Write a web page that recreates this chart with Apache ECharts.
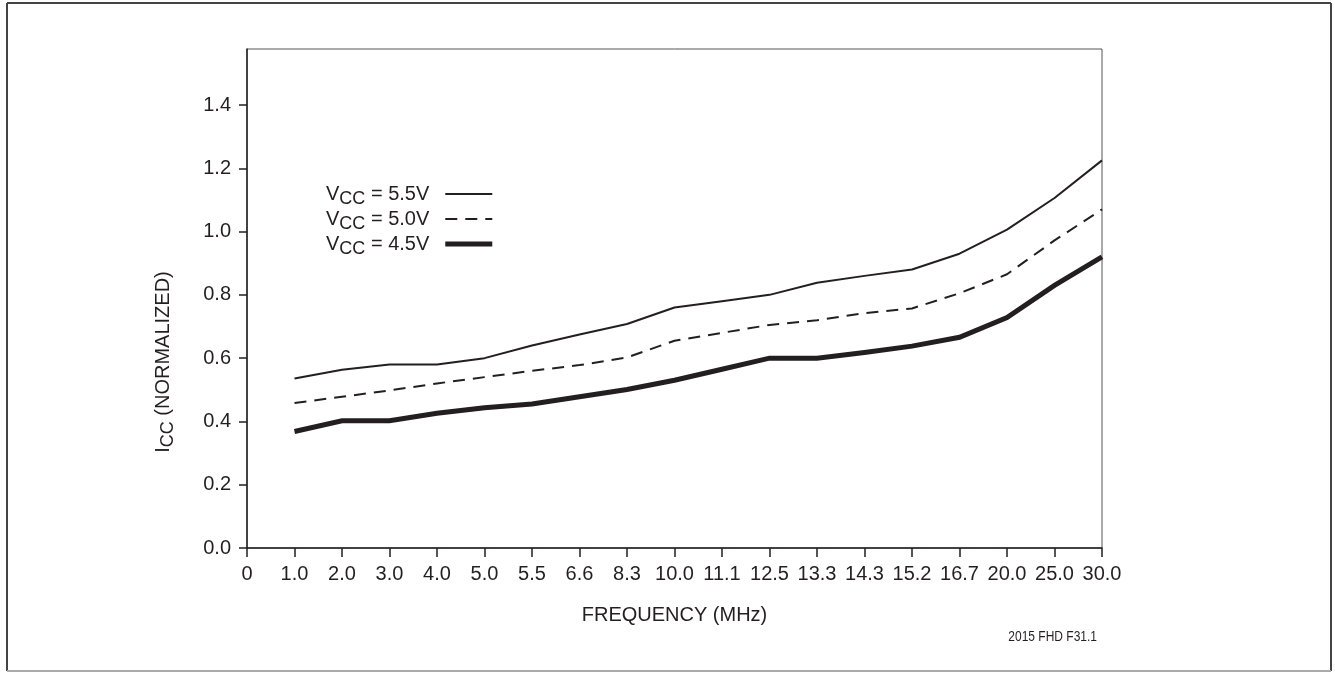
<!DOCTYPE html>
<html>
<head>
<meta charset="utf-8">
<script src="https://cdn.jsdelivr.net/npm/echarts@6/dist/echarts.min.js"></script>
<style>
html,body{margin:0;padding:0;background:#fff;}
#chart{width:1335px;height:673px;}
</style>
</head>
<body>
<div id="chart"></div>
<script>
// Frequency tick labels (MHz); the first category "0" carries no data
var tickLabels = ['0','1.0','2.0','3.0','4.0','5.0','5.5','6.6','8.3','10.0','11.1','12.5','13.3','14.3','15.2','16.7','20.0','25.0','30.0'];
// Normalized ICC values at 1.0 ... 30.0 MHz
var vcc55 = [0.536,0.563,0.580,0.580,0.600,0.640,0.675,0.708,0.760,0.780,0.800,0.838,0.860,0.880,0.930,1.006,1.106,1.225];
var vcc50 = [0.458,0.478,0.498,0.520,0.540,0.560,0.578,0.602,0.655,0.680,0.705,0.720,0.742,0.757,0.805,0.865,0.972,1.070];
var vcc45 = [0.368,0.402,0.402,0.426,0.443,0.455,0.478,0.501,0.530,0.565,0.600,0.600,0.618,0.638,0.666,0.728,0.830,0.920];
var yTicks = [0,0.2,0.4,0.6,0.8,1.0,1.2,1.4];

var FONT = 'Liberation Sans, Arial, Helvetica, sans-serif';
var INK = '#231f20';
function padFirst(arr){ return [null].concat(arr); }

var richLegend = {
  v:{fontSize:20,fontFamily:FONT,color:INK,lineHeight:22},
  s:{fontSize:18,fontFamily:FONT,color:INK,lineHeight:22,padding:[10,0,0,0]},
  e:{fontSize:20,fontFamily:FONT,color:INK,lineHeight:22,padding:[0,11,0,0]}
};

var chart = echarts.init(document.getElementById('chart'), null, {renderer:'canvas'});
chart.setOption({
  animation:false,
  backgroundColor:'#ffffff',
  color:[INK,INK,INK],
  grid:{left:247,right:233,top:49,bottom:125,show:true,borderColor:'#555',borderWidth:1,containLabel:false},
  legend:{
    orient:'vertical',
    left:326,
    top:180,
    padding:0,
    align:'right',
    itemWidth:47,
    itemHeight:10,
    itemGap:-3,
    selectedMode:false,
    itemStyle:{opacity:0},
    data:[
      {name:'5.5V',lineStyle:{width:2,type:'solid',color:INK}},
      {name:'5.0V',lineStyle:{width:2,type:[12,8],color:INK}},
      {name:'4.5V',lineStyle:{width:5,type:'solid',color:INK}}
    ],
    formatter:function(n){ return '{v|V}{s|CC}{e| = '+n+'}'; },
    textStyle:{rich:richLegend}
  },
  xAxis:{
    type:'category',
    data:tickLabels,
    boundaryGap:false,
    name:'FREQUENCY (MHz)',
    nameLocation:'middle',
    nameGap:57,
    nameTextStyle:{fontSize:20,fontFamily:FONT,color:INK},
    axisLine:{lineStyle:{color:INK,width:1.5}},
    axisTick:{show:true,length:9,interval:0,alignWithLabel:true,lineStyle:{color:INK,width:1.5}},
    axisLabel:{interval:0,margin:16,fontSize:20,fontFamily:FONT,color:INK},
    splitLine:{show:false}
  },
  yAxis:{
    type:'value',
    min:0,
    max:1.577,
    interval:0.2,
    axisLine:{show:true,lineStyle:{color:INK,width:1.5}},
    axisTick:{show:true,length:8,customValues:yTicks,lineStyle:{color:INK,width:1.5}},
    axisLabel:{margin:16,fontSize:20,fontFamily:FONT,color:INK,customValues:yTicks,
      formatter:function(v){return v.toFixed(1);}},
    splitLine:{show:false}
  },
  series:[
    {name:'5.5V',type:'line',data:padFirst(vcc55),symbol:'none',itemStyle:{color:INK},lineStyle:{color:INK,width:2}},
    {name:'5.0V',type:'line',data:padFirst(vcc50),symbol:'none',itemStyle:{color:INK},lineStyle:{color:INK,width:2,type:[12,8]}},
    {name:'4.5V',type:'line',data:padFirst(vcc45),symbol:'none',itemStyle:{color:INK},lineStyle:{color:INK,width:5,join:'miter'}}
  ],
  graphic:[
    {type:'line',shape:{x1:7,y1:3,x2:1331,y2:3},style:{stroke:'#444',lineWidth:2},silent:true},
    {type:'line',shape:{x1:7,y1:3,x2:7,y2:671},style:{stroke:'#444',lineWidth:2},silent:true},
    {type:'line',shape:{x1:1331,y1:3,x2:1331,y2:671},style:{stroke:'#444',lineWidth:2},silent:true},
    {type:'line',shape:{x1:7,y1:671,x2:1331,y2:671},style:{stroke:'#aaa',lineWidth:2},silent:true},
    {type:'text',x:163,y:362,rotation:Math.PI/2,silent:true,
      style:{text:'{v|I}{s|CC}{v| (NORMALIZED)}',align:'center',verticalAlign:'middle',
        rich:{v:{fontSize:20,fontFamily:FONT,fill:INK,lineHeight:22},
              s:{fontSize:18,fontFamily:FONT,fill:INK,lineHeight:22,padding:[10,0,0,0]}}}},
    {type:'text',x:1097,y:637,scaleX:0.8,silent:true,
      style:{text:'2015 FHD F31.1',align:'right',verticalAlign:'middle',fontSize:15,
        fontFamily:FONT,fill:INK}}
  ]
});
</script>
</body>
</html>
